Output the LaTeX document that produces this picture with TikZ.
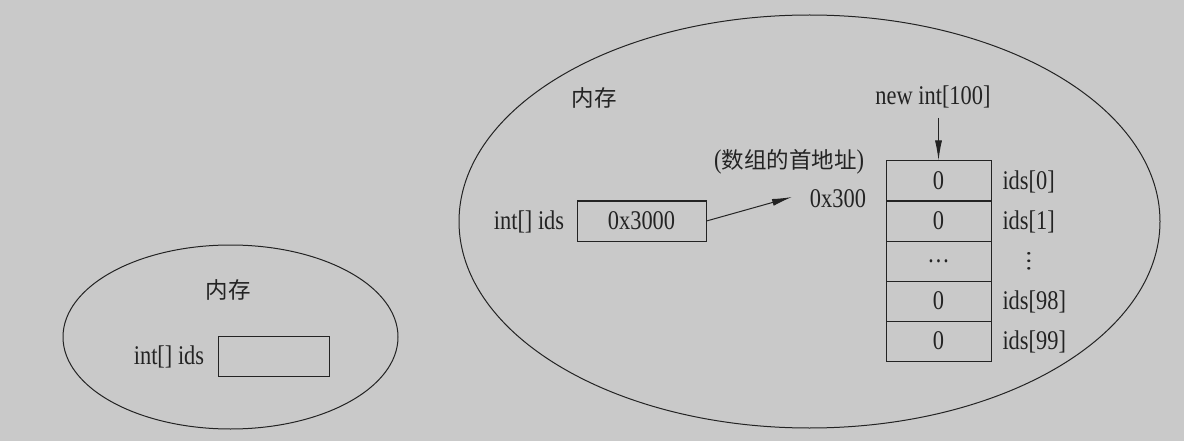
\documentclass[tikz,border=0pt]{standalone}
\usepackage{fontspec}
\setmainfont{Liberation Serif}[FakeStretch=0.83]
\newfontfamily\cjk{Noto Sans CJK SC}
\usetikzlibrary{arrows.meta,shapes.geometric}
\definecolor{bg}{RGB}{201,201,201}
\definecolor{ink}{RGB}{35,35,35}
\begin{document}
\begin{tikzpicture}[x=1pt,y=-1pt,line width=1pt,color=ink,
  lbl/.style={inner sep=0pt,font=\fontsize{27}{30}\selectfont},
  zh/.style={inner sep=0pt,font=\cjk\fontsize{22.5}{26}\selectfont},
  membox/.style={draw,ellipse,inner sep=0pt},
  cell/.style={draw,minimum width=105pt,minimum height=40pt,inner sep=0pt,font=\fontsize{27}{30}\selectfont},
  ptrbox/.style={draw,minimum height=40pt,inner sep=0pt,font=\fontsize{27}{30}\selectfont},
  arr/.style={-{Latex[length=20pt,width=7pt]}}]
\fill[bg] (0,0) rectangle (1184,441);
\useasboundingbox (0,0) rectangle (1184,441);
% left memory
\node[membox,minimum width=335pt,minimum height=184pt] (mem1) at (230.5,337) {};
\node[zh] (t1) at (228,290) {内存};
\node[lbl] (v1) at (169,357) {int[] ids};
\node[ptrbox,minimum width=111pt] (b1) at (273.5,356) {};
% right memory
\node[membox,minimum width=701pt,minimum height=413pt] (mem2) at (809.5,221.5) {};
\node[zh] (t2) at (594,98) {内存};
\node[lbl] (v2) at (529,222) {int[] ids};
\node[ptrbox,minimum width=129pt] (b2) at (641.5,221) {0x3000};
\node[zh] (note) at (789,162) {{\rmfamily\fontsize{27}{30}\selectfont(}数组的首地址{\rmfamily\fontsize{27}{30}\selectfont)}};
\node[lbl] (addr) at (838,199) {0x300};
\node[lbl] (new) at (933,97) {new int[100]};
\node[cell] (c0) at (938.5,181) {0};
\node[cell] (c1) at (938.5,221) {0};
\node[cell] (c2) at (938.5,261) {\raisebox{-4pt}{…}};
\node[cell] (c3) at (938.5,301) {0};
\node[cell] (c4) at (938.5,341) {0};
\node[lbl,anchor=west] (i0) at (1002,182) {ids[0]};
\node[lbl,anchor=west] (i1) at (1002,222) {ids[1]};
\node[lbl] (i2) at (1029,261) {\rotatebox{90}{…}};
\node[lbl,anchor=west] (i3) at (1002,302) {ids[98]};
\node[lbl,anchor=west] (i4) at (1002,342) {ids[99]};
% arrows
\coordinate (tip) at (792,197);
\draw[arr] (b2.east) -- (tip);
\coordinate (ntop) at (938.5,118);
\draw[arr] (ntop) -- (c0.north);
\end{tikzpicture}
\end{document}
